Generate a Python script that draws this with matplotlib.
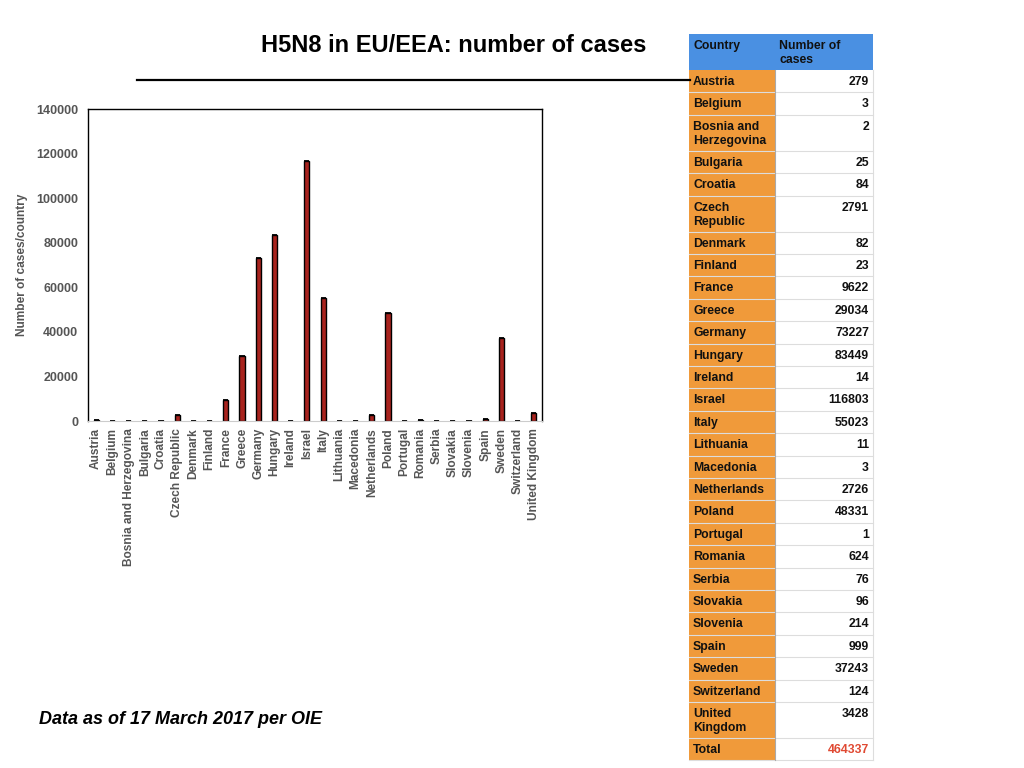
import matplotlib
matplotlib.use("Agg")
import matplotlib.pyplot as plt
from matplotlib.patches import Rectangle

plt.rcParams['font.family'] = ['Liberation Sans', 'DejaVu Sans']

# Data as of 17 March 2017 per OIE
countries = ["Austria", "Belgium", "Bosnia and Herzegovina", "Bulgaria", "Croatia",
             "Czech Republic", "Denmark", "Finland", "France", "Greece", "Germany",
             "Hungary", "Ireland", "Israel", "Italy", "Lithuania", "Macedonia",
             "Netherlands", "Poland", "Portugal", "Romania", "Serbia", "Slovakia",
             "Slovenia", "Spain", "Sweden", "Switzerland", "United Kingdom"]
cases = [279, 3, 2, 25, 84, 2791, 82, 23, 9622, 29034, 73227, 83449, 14, 116803,
         55023, 11, 3, 2726, 48331, 1, 624, 76, 96, 214, 999, 37243, 124, 3428]
table_names = ["Austria", "Belgium", "Bosnia and\nHerzegovina", "Bulgaria", "Croatia",
               "Czech\nRepublic", "Denmark", "Finland", "France", "Greece", "Germany",
               "Hungary", "Ireland", "Israel", "Italy", "Lithuania", "Macedonia",
               "Netherlands", "Poland", "Portugal", "Romania", "Serbia", "Slovakia",
               "Slovenia", "Spain", "Sweden", "Switzerland", "United\nKingdom"]
yticks = [0, 20000, 40000, 60000, 80000, 100000, 120000, 140000]

BAR = '#A8231E'
GREY = '#555555'
BLUE = '#4A90E2'
ORANGE = '#F09A3A'

fig = plt.figure(figsize=(10.24, 7.68), dpi=100)

# bar chart
ax = fig.add_axes([88/1024, 1 - 421/768, 454/1024, 312/768])
x = list(range(len(countries)))
w = 0.32
ax.bar(x, cases, width=w, color=BAR, edgecolor='black', linewidth=1)
# bar tops so tiny values still show as a dash
ax.hlines(cases, [i - w / 2 for i in x], [i + w / 2 for i in x], color='black', linewidth=1.3)
ax.set_xlim(-0.5, len(countries) - 0.5)
ax.set_ylim(0, 140000)
ax.set_yticks(yticks)
ax.set_yticklabels([str(v) for v in yticks], fontsize=9, fontweight='bold', color=GREY)
ax.set_xticks(x)
ax.set_xticklabels(countries, rotation=90, fontsize=8.6, fontweight='bold', color=GREY)
ax.tick_params(axis='both', length=0)
ax.tick_params(axis='y', pad=7)
ax.tick_params(axis='x', pad=5)
for s in ['top', 'left', 'right']:
    ax.spines[s].set_color('black')
    ax.spines[s].set_linewidth(1)
ax.spines['bottom'].set_color('#cccccc')
ax.set_ylabel("Number of cases/country", fontsize=8.6, fontweight='bold', color=GREY)
ax.yaxis.set_label_coords(-0.132, 0.5)

# overlay in pixel coordinates for title, rule, table, note
ov = fig.add_axes([0, 0, 1, 1], zorder=-1)
ov.set_xlim(0, 1024)
ov.set_ylim(768, 0)
ov.axis('off')

ov.text(454, 46, "H5N8 in EU/EEA: number of cases", fontsize=17, fontweight='bold',
        ha='center', va='center')
ov.plot([137, 690], [80, 80], color='black', linewidth=1.6)
ov.text(39, 720, "Data as of 17 March 2017 per OIE", fontsize=13, fontweight='bold',
        style='italic', ha='left', va='center')

# table
x0, x1, x2 = 689, 775, 873
fs = 8.8
top = 34
ov.add_patch(Rectangle((x0, top), x2 - x0, 36, facecolor=BLUE, edgecolor='none'))
ov.text(x0 + 4, top + 12, "Country", fontsize=fs, fontweight='bold', va='center', color='#111111')
ov.text(x1 + 4, top + 12, "Number of", fontsize=fs, fontweight='bold', va='center', color='#111111')
ov.text(x1 + 4, top + 26, "cases", fontsize=fs, fontweight='bold', va='center', color='#111111')
y = top + 36

rows = list(zip(table_names, [str(c) for c in cases])) + [("Total", str(sum(cases)))]
for name, val in rows:
    lines = name.split("\n")
    h = 22.4 if len(lines) == 1 else 36
    ov.add_patch(Rectangle((x0, y), x1 - x0, h, facecolor=ORANGE, edgecolor='none'))
    ov.add_patch(Rectangle((x1, y), x2 - x1, h, facecolor='white', edgecolor='none'))
    ov.plot([x0, x2], [y + h, y + h], color='#dddddd', linewidth=0.8)
    for i, ln in enumerate(lines):
        ov.text(x0 + 4, y + 12 + 14 * i, ln, fontsize=fs, fontweight='bold',
                va='center', color='#111111')
    ov.text(x2 - 4, y + 12, val, fontsize=fs, fontweight='bold', va='center', ha='right',
            color='#E04A33' if name == "Total" else '#111111')
    y += h
ov.plot([x1, x1], [top + 36, y], color='#aaaaaa', linewidth=0.8)
ov.plot([x2, x2], [top + 36, y], color='#dddddd', linewidth=0.8)

fig.savefig("out.png", dpi=100)
